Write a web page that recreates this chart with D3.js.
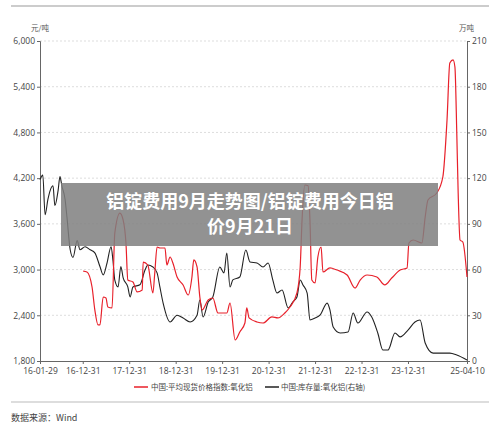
<!DOCTYPE html>
<html><head><meta charset="utf-8">
<script src="https://cdn.jsdelivr.net/npm/d3@7"></script>
<style>body{margin:0;background:#fff}svg{font-family:"Noto Sans CJK SC","Noto Sans",sans-serif}</style>
</head><body><svg id="c" width="500" height="430"></svg>
<script>
const title = ["铝锭费用9月走势图/铝锭费用今日铝", "价9月21日"];
const seriesNames = ["中国:平均现货价格指数:氧化铝", "中国:库存量:氧化铝(右轴)"];
const xTickLabels = ["16-01-29","16-12-31","17-12-31","18-12-31","19-12-31","20-12-31","21-12-31","22-12-31","23-12-31","25-04-10"];
const xTickYears = [2016.08,2017.0,2018.0,2019.0,2020.0,2021.0,2022.0,2023.0,2024.0,2025.27];
const leftTicks = [1800,2400,3000,3600,4200,4800,5400,6000];
const rightTicks = [0,30,60,90,120,150,180,210];
// [decimal year, value]
const priceData = [[2017.01,2980],[2017.09,2968],[2017.20,2771],[2017.26,2470],[2017.33,2273],[2017.37,2273],[2017.44,2640],[2017.50,2627],[2017.54,2509],[2017.63,2496],[2017.69,3480],[2017.80,3742],[2017.87,3650],[2017.93,3349],[2017.97,2863],[2018.08,2837],[2018.17,2706],[2018.28,2732],[2018.30,3099],[2018.40,3060],[2018.51,2693],[2018.55,2955],[2018.60,3296],[2018.66,3283],[2018.77,3283],[2018.81,3060],[2018.88,3165],[2018.94,3086],[2019.03,2903],[2019.16,2798],[2019.27,2666],[2019.35,2903],[2019.39,3126],[2019.46,3034],[2019.52,2640],[2019.57,2470],[2019.70,2601],[2019.80,2627],[2019.91,2430],[2020.10,2430],[2020.17,2561],[2020.28,2076],[2020.38,2181],[2020.49,2299],[2020.53,2496],[2020.58,2365],[2020.75,2312],[2020.88,2299],[2021.07,2378],[2021.20,2365],[2021.35,2430],[2021.46,2509],[2021.61,2693],[2021.68,3034],[2021.72,3651],[2021.78,4110],[2021.85,4100],[2021.89,3650],[2021.93,2863],[2022.00,2824],[2022.06,3165],[2022.13,3296],[2022.17,2968],[2022.32,3021],[2022.47,2994],[2022.69,2929],[2022.86,2758],[2022.97,2863],[2023.12,2929],[2023.33,2903],[2023.50,2798],[2023.65,2889],[2023.83,2994],[2023.98,3021],[2024.02,3349],[2024.11,3388],[2024.30,3349],[2024.37,3690],[2024.43,3913],[2024.62,4005],[2024.75,4215],[2024.84,4963],[2024.90,5711],[2024.97,5751],[2025.01,5659],[2025.05,4793],[2025.08,4005],[2025.12,3388],[2025.18,3362],[2025.27,2903]];
const stockData = [[2016.08,119],[2016.14,122],[2016.19,96],[2016.25,106],[2016.30,112],[2016.36,115],[2016.40,102],[2016.47,112],[2016.51,121],[2016.55,115],[2016.62,106],[2016.66,94.5],[2016.73,73],[2016.79,68],[2016.88,79],[2016.94,73],[2017.05,75],[2017.16,73],[2017.26,71],[2017.37,62],[2017.44,56.5],[2017.52,64],[2017.61,75],[2017.65,66],[2017.69,53],[2017.76,48.6],[2017.82,62],[2017.87,54.5],[2017.97,48.6],[2018.02,42],[2018.08,48.6],[2018.23,50],[2018.34,59.7],[2018.40,63],[2018.51,61.7],[2018.60,57.8],[2018.66,48.6],[2018.73,38],[2018.88,25.6],[2019.03,30],[2019.16,28.2],[2019.31,25.6],[2019.46,30],[2019.52,40],[2019.59,28.9],[2019.70,38.7],[2019.80,42],[2019.95,61.7],[2020.04,57.8],[2020.10,70.9],[2020.17,48.6],[2020.23,53.2],[2020.38,55.1],[2020.51,72.8],[2020.60,65],[2020.75,64.3],[2020.88,61.7],[2020.99,64.3],[2021.09,53.2],[2021.18,44.6],[2021.29,46.6],[2021.42,34.8],[2021.52,38.7],[2021.61,42],[2021.68,53.2],[2021.74,49.9],[2021.83,44.6],[2021.89,26.9],[2022.00,28.2],[2022.11,30.2],[2022.26,38],[2022.32,33.5],[2022.39,22.3],[2022.54,18.4],[2022.71,19],[2022.82,31.5],[2022.92,24.9],[2023.12,32.2],[2023.22,28.9],[2023.35,18.4],[2023.46,7.2],[2023.57,7.2],[2023.72,18.4],[2023.83,15.8],[2024.00,20.3],[2024.15,25.6],[2024.26,26.9],[2024.37,11.8],[2024.54,5.2],[2024.75,5.2],[2024.90,5.2],[2025.05,3.9],[2025.27,0.6]];

const svg = d3.select("#c");
const L=40,R=467,T=41,B=361;
const x = d3.scaleLinear().domain([2016.08,2025.27]).range([L,R]);
const yL = d3.scaleLinear().domain([1800,6000]).range([B,T]);
const yR = d3.scaleLinear().domain([0,210]).range([B,T]);

svg.append("line").attr("x1",11).attr("x2",489).attr("y1",6).attr("y2",6).attr("stroke","#999").attr("stroke-width",1);
svg.append("line").attr("x1",11).attr("x2",489).attr("y1",402).attr("y2",402).attr("stroke","#bbb").attr("stroke-width",1);

svg.append("g").selectAll("line").data(leftTicks.filter(d=>d>1800)).join("line")
  .attr("x1",L).attr("x2",R).attr("y1",d=>yL(d)).attr("y2",d=>yL(d))
  .attr("stroke","#ddd").attr("stroke-dasharray","2,2");

const axStyle = g=>{g.selectAll("text").attr("fill","#444").style("font-size","8.5px").style("font-family","'Open Sans',sans-serif");g.selectAll("path,line").attr("stroke","#666");};
svg.append("g").attr("transform",`translate(${L},0)`)
  .call(d3.axisLeft(yL).tickValues(leftTicks).tickFormat(d3.format(",")).tickSize(3).tickPadding(2)).call(axStyle);
svg.append("g").attr("transform",`translate(${R},0)`)
  .call(d3.axisRight(yR).tickValues(rightTicks).tickSize(3).tickPadding(2)).call(axStyle);
svg.append("g").attr("transform",`translate(0,${B})`)
  .call(d3.axisBottom(x).tickValues(xTickYears).tickFormat((d,i)=>xTickLabels[i]).tickSize(3).tickPadding(4)).call(axStyle);

svg.append("text").attr("x",31).attr("y",31).text("元/吨").attr("font-size",7.5).attr("fill","#555");
svg.append("text").attr("x",459).attr("y",31).text("万吨").attr("font-size",7.5).attr("fill","#555");

const line = (ys)=>d3.line().x(d=>x(d[0])).y(d=>ys(d[1])).curve(d3.curveMonotoneX);
svg.append("path").datum(stockData).attr("d",line(yR)).attr("fill","none").attr("stroke","#222").attr("stroke-width",1.1);
svg.append("path").datum(priceData).attr("d",line(yL)).attr("fill","none").attr("stroke","#e8202a").attr("stroke-width",1.2);

const lg = svg.append("g").attr("font-size",7.5).attr("fill","#444");
lg.append("line").attr("x1",134).attr("x2",148).attr("y1",387).attr("y2",387).attr("stroke","#e8202a").attr("stroke-width",1.5);
lg.append("text").attr("x",151).attr("y",390).text(seriesNames[0]);
lg.append("line").attr("x1",265).attr("x2",279).attr("y1",387).attr("y2",387).attr("stroke","#222").attr("stroke-width",1.5);
lg.append("text").attr("x",281).attr("y",390).text(seriesNames[1]);

svg.append("text").attr("x",11).attr("y",421).text("数据来源：Wind").attr("font-size",9).attr("fill","#444");

svg.append("rect").attr("x",61).attr("y",183).attr("width",377).attr("height",63).attr("fill","#7f7f7f").attr("opacity",0.85);
svg.selectAll("text.t").data(title).join("text").attr("class","t")
  .attr("x",250).attr("y",(d,i)=>208+i*25).attr("text-anchor","middle")
  .attr("fill","#fff").attr("font-weight","bold").attr("font-size",18).text(d=>d);
</script></body></html>
